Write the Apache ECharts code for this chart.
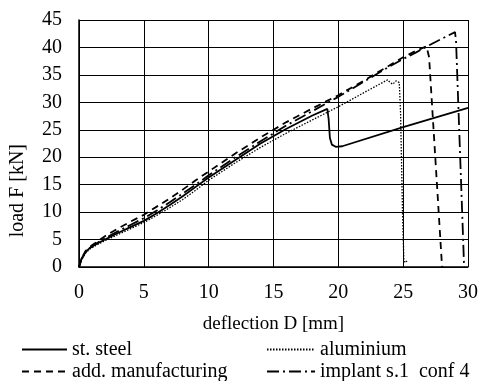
<!DOCTYPE html>
<html>
<head>
<meta charset="utf-8">
<script src="https://cdn.jsdelivr.net/npm/echarts@6/dist/echarts.min.js"></script>
<style>html,body{margin:0;padding:0;background:#fff}#c{width:481px;height:381px}</style>
</head>
<body>
<div id="c"></div>
<script>
const xTicks = [0, 5, 10, 15, 20, 25, 30];
const yTicks = [0, 5, 10, 15, 20, 25, 30, 35, 40, 45];
const seriesNames = ['st. steel', 'add. manufacturing', 'aluminium', 'implant s.1  conf 4'];

const steelData = [[0,0],[0.2,1.5],[0.5,2.7],[0.8,3.4],[1.2,4.0],[2,5.0],[3,6.2],[4,7.3],[5,8.4],[6,9.8],[7,11.3],[8,12.9],[9,14.6],[10,16.3],[12,19.4],[14,22.5],[16,25.2],[18,27.6],[19.15,28.8],[19.25,27],[19.35,23.5],[19.5,22.3],[19.8,21.9],[20.3,22.0],[25,25.5],[30,29.0]];
const addManData = [[0,0],[0.2,1.6],[0.5,2.9],[0.8,3.6],[1.2,4.3],[2,5.6],[3,7.0],[4,8.3],[5,9.5],[6,11],[7,12.5],[8,14.1],[9,15.8],[10,17.4],[12,20.6],[14,23.6],[16,26.4],[18,28.9],[20,31.3],[22,34],[24,36.8],[25,38.2],[26,39.4],[26.8,40.2],[27.0,38.2],[28.0,0]];
const aluData = [[0,0],[0.2,1.3],[0.5,2.5],[0.8,3.2],[1.2,3.8],[2,4.8],[3,5.9],[4,7.0],[5,8.1],[6,9.4],[7,10.8],[8,12.3],[9,14.0],[10,15.8],[12,18.9],[14,21.8],[16,24.4],[18,26.8],[20,29.2],[22,31.8],[23.8,34.1],[24.0,33.6],[24.2,33.3],[24.45,33.9],[24.7,33.6],[24.8,28],[24.95,10],[25.05,1.5],[25.15,0.8],[25.3,1.1]];
const implantData = [[0,0],[0.2,1.5],[0.5,2.7],[0.8,3.4],[1.2,4.1],[2,5.2],[3,6.5],[4,7.7],[5,8.9],[6,10.3],[7,11.8],[8,13.4],[9,15.0],[10,16.7],[12,19.9],[14,22.9],[16,25.8],[18,28.4],[20,31.0],[22,33.8],[24,36.6],[25,37.9],[26,39.1],[27,40.4],[28,41.6],[29.0,42.8],[29.08,41],[29.7,0]];

const FONT = 'Liberation Serif';
const chart = echarts.init(document.getElementById('c'), null, {renderer: 'canvas'});

function mkSeries(name, data, width, dash) {
  return {
    name: name, type: 'line', data: data, showSymbol: false, symbol: 'none',
    animation: false, clip: true,
    lineStyle: {color: '#000', width: width, type: dash},
    itemStyle: {color: '#000'}
  };
}

const legendCommon = {
  orient: 'vertical', top: 339, padding: 0, itemHeight: 14, itemGap: 1,
  height: 50,
  itemStyle: {opacity: 0, color: 'rgba(0,0,0,0)', borderWidth: 0},
  textStyle: {color: '#000', fontFamily: FONT, fontSize: 20, lineHeight: 21}
};

chart.setOption({
  animation: false,
  backgroundColor: '#fff',
  grid: {left: 79, right: 10, top: 20, bottom: 114, containLabel: false},
  xAxis: {
    type: 'value', min: xTicks[0], max: xTicks[xTicks.length - 1], interval: 5,
    axisLine: {show: true, lineStyle: {color: '#000', width: 1.5}},
    axisTick: {show: false},
    splitLine: {show: true, lineStyle: {color: '#000', width: 1}},
    axisLabel: {color: '#000', fontFamily: FONT, fontSize: 20, margin: 16},
    name: 'deflection D [mm]', nameLocation: 'middle', nameGap: 48,
    nameTextStyle: {color: '#000', fontFamily: FONT, fontSize: 19}
  },
  yAxis: {
    type: 'value', min: yTicks[0], max: yTicks[yTicks.length - 1], interval: 5,
    axisLine: {show: true, lineStyle: {color: '#000', width: 1.5}},
    axisTick: {show: false},
    splitLine: {show: true, lineStyle: {color: '#000', width: 1}},
    axisLabel: {color: '#000', fontFamily: FONT, fontSize: 20, margin: 17}
  },
  graphic: [{
    type: 'text', left: 8, top: 144, rotation: Math.PI / 2,
    style: {text: 'load F [kN]', fill: '#000', font: '20px "Liberation Serif"'}
  }],
  legend: [
    Object.assign({data: [seriesNames[0], seriesNames[1]], left: 21, itemWidth: 45}, legendCommon),
    Object.assign({data: [seriesNames[2], seriesNames[3]], left: 266, itemWidth: 48}, legendCommon)
  ],
  series: [
    mkSeries(seriesNames[0], steelData, 1.8, 'solid'),
    mkSeries(seriesNames[1], addManData, 1.8, [7, 5]),
    mkSeries(seriesNames[2], aluData, 1.3, [1.5, 1.5]),
    mkSeries(seriesNames[3], implantData, 1.8, [12, 4, 2, 4])
  ]
});
</script>
</body>
</html>
